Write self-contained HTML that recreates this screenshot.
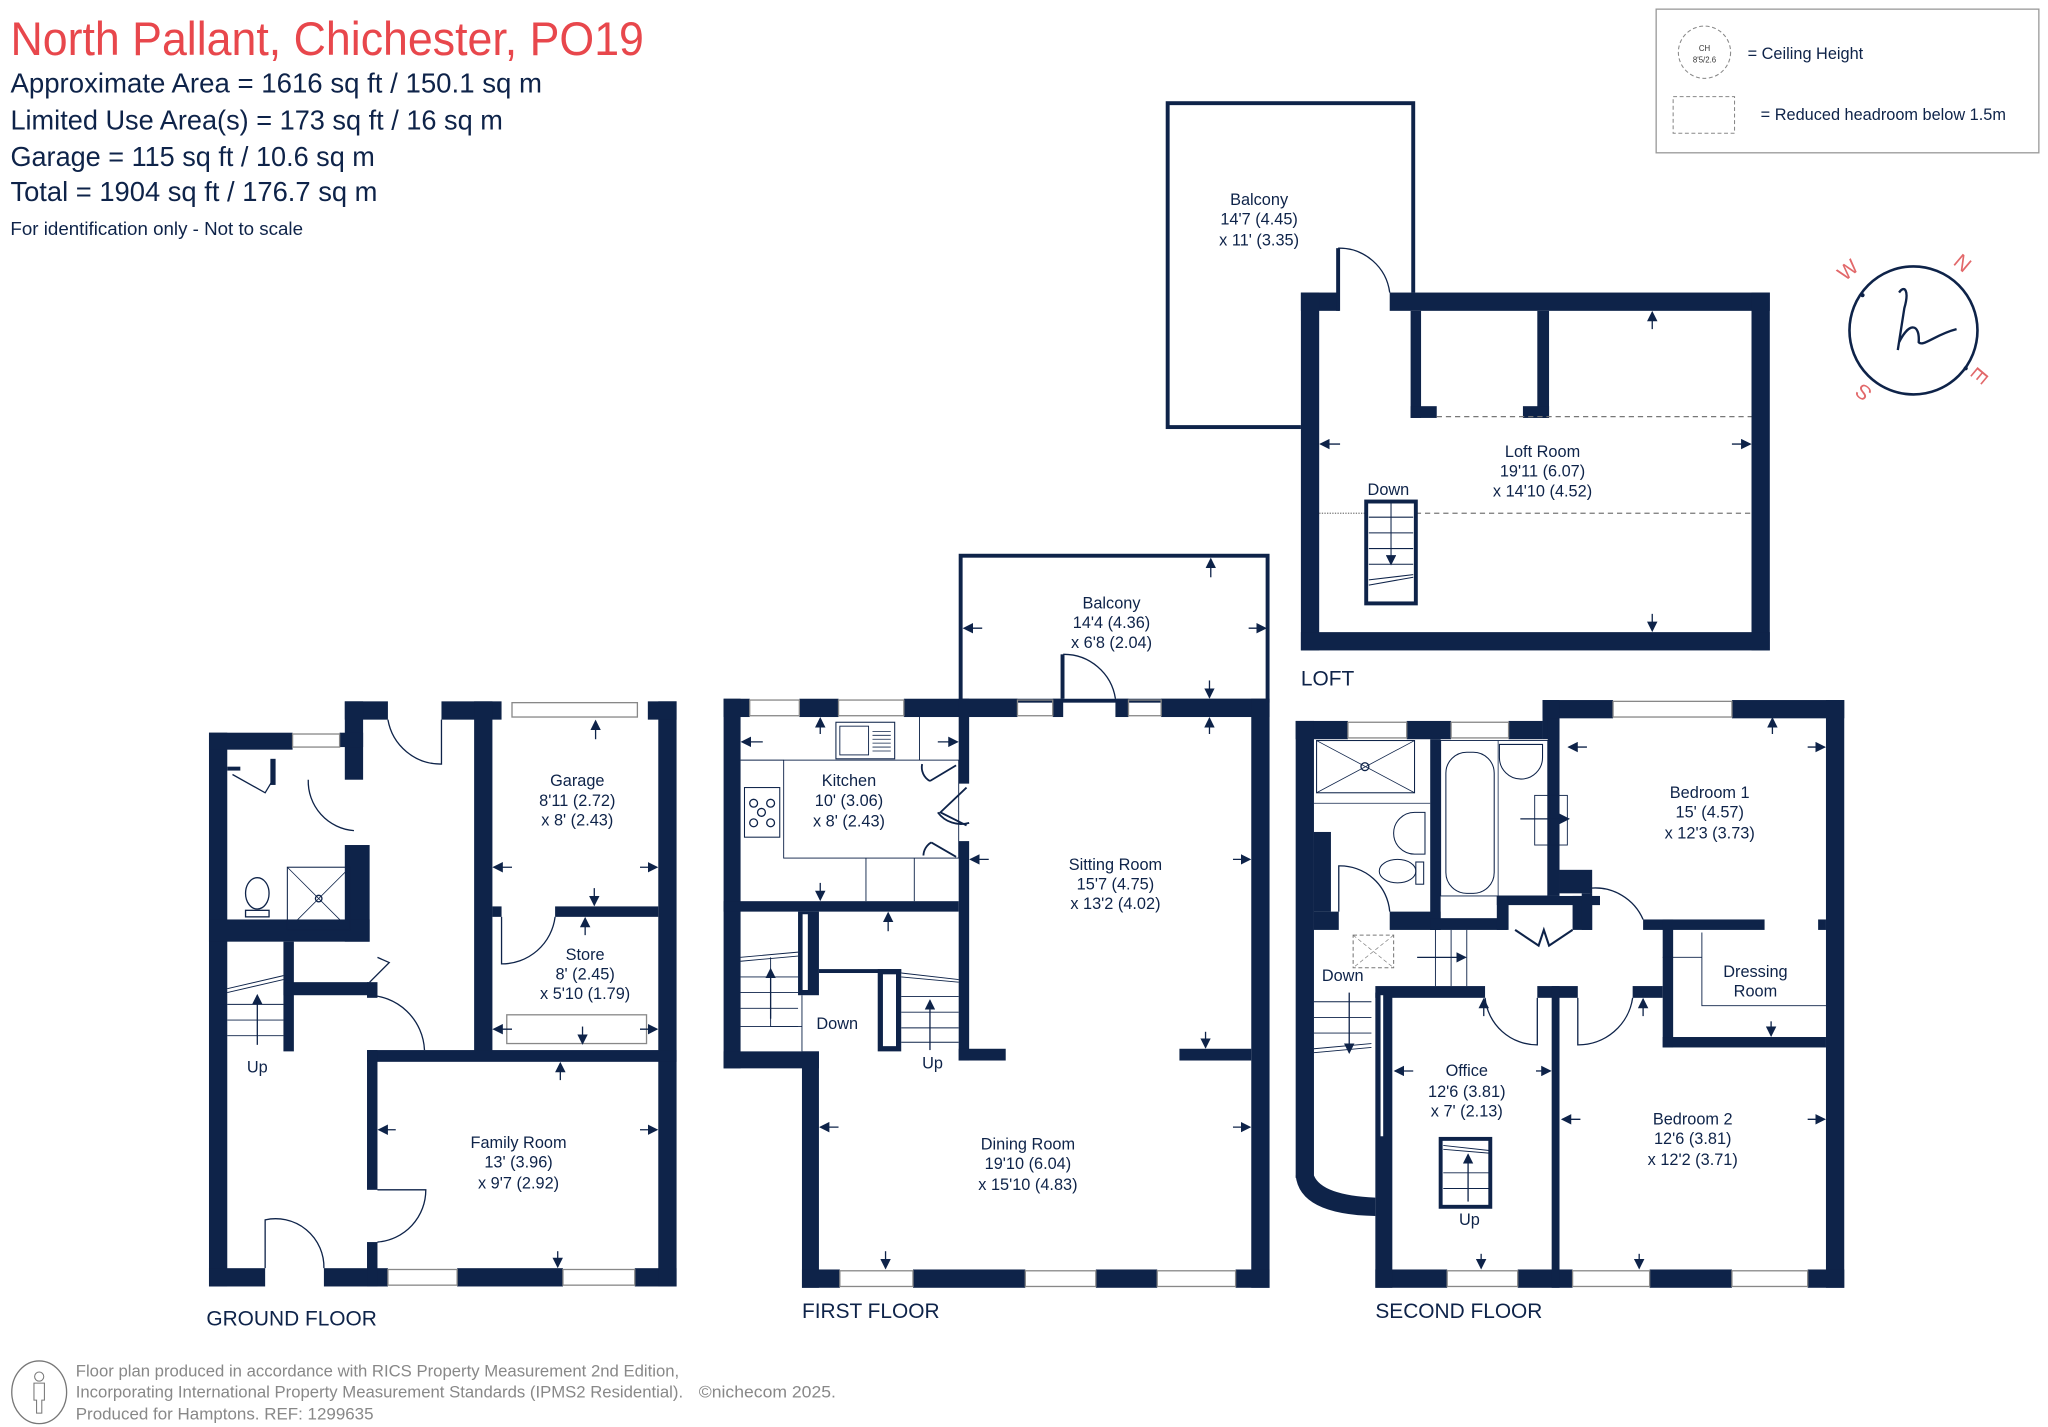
<!DOCTYPE html>
<html><head><meta charset="utf-8"><style>
html,body{margin:0;padding:0;background:#fff;}
svg{display:block;}
text{font-family:"Liberation Sans",sans-serif;}
.r{font-size:12.5px;fill:#0e2349;text-anchor:middle;}
.f{font-size:16px;fill:#0e2349;}
</style></head><body>
<svg width="2048" height="1427" viewBox="0 0 1568 1092.6" preserveAspectRatio="none" xmlns="http://www.w3.org/2000/svg">
<defs>
<marker id="a" markerWidth="8" markerHeight="8" refX="7" refY="4" orient="auto" markerUnits="userSpaceOnUse"><path d="M0,0 L8,4 L0,8 Z" fill="#0e2349"/></marker>
</defs>
<rect width="1568" height="1093" fill="#fff"/>
<!-- header -->
<text x="8" y="42" font-size="36" fill="#e8474c" textLength="485" lengthAdjust="spacingAndGlyphs">North Pallant, Chichester, PO19</text>
<g fill="#0e2349" font-size="21">
<text x="8" y="71" textLength="407" lengthAdjust="spacingAndGlyphs">Approximate Area = 1616 sq ft / 150.1 sq m</text>
<text x="8" y="99" textLength="377" lengthAdjust="spacingAndGlyphs">Limited Use Area(s) = 173 sq ft / 16 sq m</text>
<text x="8" y="127" textLength="279" lengthAdjust="spacingAndGlyphs">Garage = 115 sq ft / 10.6 sq m</text>
<text x="8" y="154" textLength="281" lengthAdjust="spacingAndGlyphs">Total = 1904 sq ft / 176.7 sq m</text>
<text x="8" y="180" font-size="14" textLength="224" lengthAdjust="spacingAndGlyphs">For identification only - Not to scale</text>
</g>
<!-- legend -->
<rect x="1268" y="7" width="293" height="110" fill="none" stroke="#999" stroke-width="1"/>
<circle cx="1305" cy="40" r="20" fill="none" stroke="#888" stroke-width="0.8" stroke-dasharray="3,2"/>
<text x="1305" y="39" font-size="6" text-anchor="middle" fill="#333">CH</text>
<text x="1305" y="48" font-size="6" text-anchor="middle" fill="#333">8'5/2.6</text>
<text x="1338" y="45" font-size="12.5" fill="#0e2349">= Ceiling Height</text>
<rect x="1281" y="74" width="47" height="28" fill="none" stroke="#888" stroke-width="0.8" stroke-dasharray="3,2"/>
<text x="1348" y="92" font-size="12.5" fill="#0e2349">= Reduced headroom below 1.5m</text>
<!-- compass -->
<circle cx="1465" cy="253" r="49" fill="none" stroke="#0e2349" stroke-width="2"/>
<path d="M1454,224 C1458,218 1462,222 1458,236 L1453,268 M1454,262 C1462,246 1470,248 1469,262 C1472,266 1482,256 1498,252" fill="none" stroke="#0e2349" stroke-width="1.8"/>
<g fill="#e2686a" font-size="16" text-anchor="middle">
<text x="1415" y="212" transform="rotate(-40 1415 207)">W</text>
<text x="1503" y="207" transform="rotate(40 1503 201)">N</text>
<text x="1516" y="294" transform="rotate(130 1516 288)">E</text>
<text x="1427" y="305" transform="rotate(-140 1427 300)">S</text>
</g>
<circle cx="1426" cy="226" r="1.6" fill="#0e2349"/><circle cx="1505" cy="282" r="1.6" fill="#0e2349"/>

<g fill="#0e2349">
<!-- ================= LOFT ================= -->
<rect x="894" y="79" width="188" height="248" fill="none" stroke="#0e2349" stroke-width="3"/>
<rect x="996" y="224" width="359" height="274" fill="#fff"/>
<rect x="996" y="224" width="29" height="14"/><rect x="1064" y="224" width="291" height="14"/>
<rect x="996" y="224" width="14" height="274"/><rect x="1341" y="224" width="14" height="274"/>
<rect x="996" y="484" width="359" height="14"/>
<rect x="1080" y="238" width="8" height="82"/><rect x="1080" y="311" width="20" height="9"/>
<rect x="1177" y="238" width="9" height="82"/><rect x="1166" y="311" width="20" height="9"/>
</g>
<path d="M1025,238 V190 A39,39 0 0 1 1064,224" fill="none" stroke="#0e2349" stroke-width="1"/>
<rect x="1023" y="190" width="3" height="48" fill="#0e2349"/>
<line x1="1100" y1="319" x2="1341" y2="319" stroke="#777" stroke-dasharray="4,3" stroke-width="1"/>
<line x1="1084" y1="393" x2="1341" y2="393" stroke="#777" stroke-dasharray="4,3" stroke-width="1"/>
<line x1="1010" y1="393" x2="1046" y2="393" stroke="#777" stroke-dasharray="1,1" stroke-width="1"/>
<rect x="1046" y="384" width="38" height="78" fill="#fff" stroke="#0e2349" stroke-width="3"/>
<g stroke="#0e2349" stroke-width="0.8"><line x1="1048" y1="396" x2="1082" y2="396"/><line x1="1048" y1="408" x2="1082" y2="408"/><line x1="1048" y1="420" x2="1082" y2="420"/><line x1="1048" y1="432" x2="1082" y2="432"/><line x1="1048" y1="444" x2="1082" y2="440"/><line x1="1048" y1="448" x2="1082" y2="442"/><line x1="1065" y1="384" x2="1065" y2="432"/><line x1="1065" y1="420" x2="1065" y2="432" marker-end="url(#a)"/></g>
<g stroke="#0e2349" stroke-width="1" marker-end="url(#a)">
<line x1="1265" y1="252" x2="1265" y2="239"/><line x1="1265" y1="470" x2="1265" y2="483"/>
<line x1="1026" y1="340" x2="1011" y2="340"/><line x1="1326" y1="340" x2="1340" y2="340"/>
</g>
<text class="r" x="964" y="157">Balcony</text><text class="r" x="964" y="172">14'7 (4.45)</text><text class="r" x="964" y="188">x 11' (3.35)</text>
<text class="r" x="1181" y="350">Loft Room</text><text class="r" x="1181" y="365">19'11 (6.07)</text><text class="r" x="1181" y="380">x 14'10 (4.52)</text>
<text class="r" x="1063" y="379">Down</text>
<text class="f" x="996" y="525">LOFT</text>

<!-- ================= GROUND FLOOR ================= -->
<g fill="#0e2349">
<rect x="160" y="561" width="14" height="424"/>
<rect x="160" y="971" width="43" height="14"/><rect x="248" y="971" width="49" height="14"/><rect x="350" y="971" width="81" height="14"/><rect x="486" y="971" width="32" height="14"/>
<rect x="504" y="537" width="14" height="448"/>
<rect x="338" y="537" width="46" height="14"/><rect x="496" y="537" width="22" height="14"/>
<rect x="363" y="537" width="14" height="273"/>
<rect x="281" y="804" width="237" height="9"/>
<rect x="425" y="694" width="79" height="8"/><rect x="377" y="694" width="7" height="8"/>
<rect x="264" y="537" width="33" height="14"/><rect x="264" y="537" width="14" height="60"/>
<rect x="160" y="561" width="64" height="13"/><rect x="260" y="561" width="18" height="11"/>
<rect x="264" y="647" width="19" height="74"/>
<rect x="160" y="704" width="123" height="17"/>
<rect x="217" y="721" width="8" height="84"/>
<rect x="217" y="752" width="66" height="10"/><rect x="281" y="752" width="8" height="12"/>
<rect x="281" y="804" width="8" height="107"/><rect x="281" y="951" width="8" height="34"/>
<rect x="207" y="581" width="4" height="20"/><rect x="174" y="587" width="10" height="3"/>
</g>
<g fill="none" stroke="#0e2349" stroke-width="1">
<rect x="224" y="562" width="36" height="10" stroke="#888"/>
<rect x="392" y="538" width="96" height="11" stroke="#888"/>
<rect x="297" y="972" width="53" height="12" stroke="#888"/><rect x="431" y="972" width="55" height="12" stroke="#888"/>
<path d="M203,971 V934 A37,37 0 0 1 248,971"/>
<path d="M289,911 H326 A40,40 0 0 1 289,951"/>
<path d="M281,762 A44,44 0 0 1 325,804"/>
<path d="M297,551 A41,41 0 0 0 338,585 V551"/>
<path d="M236,597 A38,38 0 0 0 271,636"/>
<path d="M425,702 A41,41 0 0 1 384,738 V702"/>
<path d="M178,593 L203,607 L209,597"/>
<path d="M283,752 L298,737 L289,733"/>
<rect x="220" y="664" width="48" height="48" stroke-width="0.8"/>
<path d="M220,664 L268,712 M268,664 L220,712" stroke-width="0.6"/>
<circle cx="244" cy="688" r="2.5"/>
<ellipse cx="197" cy="684" rx="9" ry="12"/>
<rect x="188" y="697" width="18" height="5"/>
<rect x="388" y="777" width="107" height="22" stroke="#888"/>
<g stroke-width="0.7"><line x1="174" y1="757" x2="217" y2="747"/><line x1="174" y1="760" x2="217" y2="750"/><line x1="174" y1="769" x2="217" y2="769"/><line x1="174" y1="781" x2="217" y2="781"/><line x1="174" y1="793" x2="217" y2="793"/></g>
</g>
<g stroke="#0e2349" stroke-width="1" marker-end="url(#a)">
<line x1="197" y1="800" x2="197" y2="762"/>
<line x1="456" y1="566" x2="456" y2="552"/><line x1="455" y1="680" x2="455" y2="693"/>
<line x1="392" y1="664" x2="378" y2="664"/><line x1="490" y1="664" x2="503" y2="664"/>
<line x1="448" y1="716" x2="448" y2="703"/><line x1="446" y1="786" x2="446" y2="799"/>
<line x1="392" y1="788" x2="378" y2="788"/><line x1="490" y1="788" x2="503" y2="788"/>
<line x1="429" y1="827" x2="429" y2="814"/><line x1="427" y1="958" x2="427" y2="970"/>
<line x1="303" y1="865" x2="290" y2="865"/><line x1="490" y1="865" x2="503" y2="865"/>
</g>
<text class="r" x="442" y="602">Garage</text><text class="r" x="442" y="617">8'11 (2.72)</text><text class="r" x="442" y="632">x 8' (2.43)</text>
<text class="r" x="448" y="735">Store</text><text class="r" x="448" y="750">8' (2.45)</text><text class="r" x="448" y="765">x 5'10 (1.79)</text>
<text class="r" x="397" y="879">Family Room</text><text class="r" x="397" y="894">13' (3.96)</text><text class="r" x="397" y="910">x 9'7 (2.92)</text>
<text class="r" x="197" y="821">Up</text>
<text class="f" x="158" y="1015">GROUND FLOOR</text>

<!-- ================= FIRST FLOOR ================= -->
<rect x="735.5" y="425.5" width="235" height="111" fill="none" stroke="#0e2349" stroke-width="3"/>
<g fill="#0e2349">
<rect x="554" y="535" width="20" height="14"/><rect x="612" y="535" width="30" height="14"/><rect x="692" y="535" width="87" height="14"/><rect x="806" y="535" width="8" height="14"/><rect x="854" y="535" width="10" height="14"/><rect x="889" y="535" width="83" height="14"/>
<rect x="958" y="535" width="14" height="451"/>
<rect x="554" y="535" width="13" height="283"/>
<rect x="554" y="805" width="73" height="13"/><rect x="614" y="805" width="13" height="181"/>
<rect x="614" y="972" width="29" height="14"/><rect x="699" y="972" width="86" height="14"/><rect x="839" y="972" width="47" height="14"/><rect x="946" y="972" width="26" height="14"/>
<rect x="734" y="535" width="8" height="65"/><rect x="734" y="644" width="8" height="168"/>
<rect x="554" y="690" width="180" height="8"/>
<rect x="734" y="803" width="36" height="9"/><rect x="903" y="803" width="55" height="9"/>
<rect x="611" y="698" width="16" height="64"/>
<rect x="627" y="742" width="63" height="3"/>
<rect x="812" y="501" width="3" height="34"/>
</g>
<rect x="614.5" y="700" width="4" height="58" fill="#fff"/>
<rect x="674" y="744" width="14" height="59" fill="#fff" stroke="#0e2349" stroke-width="4"/>
<g fill="none" stroke="#0e2349" stroke-width="1">
<g stroke="#888"><rect x="574" y="536" width="38" height="12"/><rect x="642" y="536" width="50" height="12"/><rect x="779" y="536" width="27" height="12"/><rect x="864" y="536" width="25" height="12"/>
<rect x="643" y="973" width="56" height="12"/><rect x="785" y="973" width="54" height="12"/><rect x="886" y="973" width="60" height="12"/></g>
<path d="M814,501 A40,40 0 0 1 854,535"/>
<rect x="600" y="582" width="134" height="75" stroke-width="0.7"/>
<line x1="567" y1="582" x2="600" y2="582" stroke-width="0.7"/>
<line x1="704" y1="549" x2="704" y2="582" stroke-width="0.7"/>
<line x1="663" y1="657" x2="663" y2="690" stroke-width="0.7"/><line x1="700" y1="657" x2="700" y2="690" stroke-width="0.7"/>
<rect x="640" y="553" width="45" height="28" stroke-width="0.8"/><rect x="643" y="556" width="22" height="22" stroke-width="0.7"/>
<g stroke-width="0.6"><line x1="668" y1="560" x2="682" y2="560"/><line x1="668" y1="563" x2="682" y2="563"/><line x1="668" y1="566" x2="682" y2="566"/><line x1="668" y1="569" x2="682" y2="569"/><line x1="668" y1="572" x2="682" y2="572"/><line x1="668" y1="575" x2="682" y2="575"/></g>
<rect x="570" y="603" width="27" height="38" stroke-width="0.8"/>
<circle cx="577" cy="615" r="3"/><circle cx="590" cy="615" r="3"/><circle cx="583" cy="622" r="3"/><circle cx="577" cy="630" r="3"/><circle cx="590" cy="630" r="3"/>
<path d="M732,586 L712,598 M706,585 A12,12 0 0 0 712,598" stroke-width="1.4"/>
<path d="M740,603 L720,622 L740,632 M718,622 A22,22 0 0 0 742,630" stroke-width="1.4"/>
<path d="M732,656 L713,645 M707,655 A12,12 0 0 1 713,645" stroke-width="1.4"/>
<g stroke-width="0.7"><line x1="567" y1="733" x2="611" y2="729"/><line x1="567" y1="736" x2="611" y2="732"/><line x1="567" y1="748" x2="611" y2="748"/><line x1="567" y1="760" x2="611" y2="760"/><line x1="567" y1="772" x2="611" y2="772"/><line x1="567" y1="786" x2="611" y2="786"/><line x1="614" y1="762" x2="614" y2="805"/><line x1="590" y1="733" x2="590" y2="786"/><line x1="590" y1="786" x2="614" y2="786"/>
<line x1="690" y1="745" x2="734" y2="750"/><line x1="690" y1="748" x2="734" y2="752"/><line x1="690" y1="763" x2="734" y2="763"/><line x1="690" y1="775" x2="734" y2="775"/><line x1="690" y1="787" x2="734" y2="787"/><line x1="690" y1="798" x2="734" y2="798"/></g>
</g>
<g stroke="#0e2349" stroke-width="1" marker-end="url(#a)">
<line x1="590" y1="780" x2="590" y2="742"/><line x1="712" y1="804" x2="712" y2="766"/>
<line x1="628" y1="562" x2="628" y2="550"/><line x1="628" y1="676" x2="628" y2="689"/>
<line x1="584" y1="568" x2="568" y2="568"/><line x1="718" y1="568" x2="733" y2="568"/>
<line x1="680" y1="713" x2="680" y2="699"/>
<line x1="927" y1="442" x2="927" y2="428"/><line x1="926" y1="521" x2="926" y2="534"/><line x1="926" y1="562" x2="926" y2="550"/>
<line x1="752" y1="481" x2="738" y2="481"/><line x1="956" y1="481" x2="969" y2="481"/>
<line x1="757" y1="658" x2="743" y2="658"/><line x1="944" y1="658" x2="957" y2="658"/>
<line x1="923" y1="790" x2="923" y2="802"/>
<line x1="642" y1="863" x2="628" y2="863"/><line x1="944" y1="863" x2="957" y2="863"/>
<line x1="678" y1="958" x2="678" y2="971"/>
</g>
<text class="r" x="650" y="602">Kitchen</text><text class="r" x="650" y="617">10' (3.06)</text><text class="r" x="650" y="633">x 8' (2.43)</text>
<text class="r" x="851" y="466">Balcony</text><text class="r" x="851" y="481">14'4 (4.36)</text><text class="r" x="851" y="496">x 6'8 (2.04)</text>
<text class="r" x="854" y="666">Sitting Room</text><text class="r" x="854" y="681">15'7 (4.75)</text><text class="r" x="854" y="696">x 13'2 (4.02)</text>
<text class="r" x="787" y="880">Dining Room</text><text class="r" x="787" y="895">19'10 (6.04)</text><text class="r" x="787" y="911">x 15'10 (4.83)</text>
<text class="r" x="641" y="788">Down</text><text class="r" x="714" y="818">Up</text>
<text class="f" x="614" y="1009">FIRST FLOOR</text>

<!-- ================= SECOND FLOOR ================= -->
<g fill="#0e2349">
<rect x="992" y="552" width="40" height="14"/><rect x="1077" y="552" width="34" height="14"/><rect x="1155" y="552" width="26" height="14"/>
<rect x="1181" y="536" width="54" height="14"/><rect x="1326" y="536" width="86" height="14"/><rect x="1181" y="536" width="13" height="30"/>
<rect x="1398" y="536" width="14" height="450"/>
<rect x="1053" y="972" width="55" height="14"/><rect x="1162" y="972" width="42" height="14"/><rect x="1263" y="972" width="63" height="14"/><rect x="1384" y="972" width="28" height="14"/>
<rect x="992" y="552" width="14" height="350"/>
<path d="M992,900 L1006,900 Q1012,915 1053,917 L1053,931 Q995,930 992,900 Z"/>
<rect x="1006" y="637" width="13" height="61"/>
<rect x="1053" y="760" width="13" height="226"/>
<rect x="1095" y="566" width="8" height="146"/>
<rect x="1006" y="698" width="19" height="14"/><rect x="1064" y="698" width="39" height="14"/>
<rect x="1095" y="703" width="59" height="9"/>
<rect x="1146" y="686" width="79" height="7"/><rect x="1146" y="686" width="9" height="26"/><rect x="1204" y="686" width="15" height="26"/>
<rect x="1185" y="550" width="9" height="136"/>
<rect x="1194" y="666" width="25" height="18"/><rect x="1211" y="684" width="8" height="28"/>
<rect x="1258" y="704" width="93" height="8"/><rect x="1392" y="704" width="6" height="8"/>
<rect x="1053" y="755" width="84" height="9"/><rect x="1177" y="755" width="31" height="9"/><rect x="1250" y="755" width="23" height="9"/>
<rect x="1188" y="755" width="6" height="231"/>
<rect x="1273" y="704" width="8" height="98"/><rect x="1273" y="794" width="125" height="8"/>
</g>
<rect x="1056" y="761" width="4" height="110" fill="#fff" stroke="#0e2349" stroke-width="2"/>
<g fill="none" stroke="#0e2349" stroke-width="1">
<g stroke="#888"><rect x="1032" y="553" width="45" height="12"/><rect x="1111" y="553" width="44" height="12"/><rect x="1235" y="537" width="91" height="12"/>
<rect x="1108" y="973" width="54" height="12"/><rect x="1204" y="973" width="59" height="12"/><rect x="1326" y="973" width="58" height="12"/></g>
<rect x="1008" y="567" width="75" height="40" stroke-width="0.8"/><path d="M1008,567 L1083,607 M1083,567 L1008,607" stroke-width="0.6"/><circle cx="1045" cy="587" r="3"/>
<line x1="1006" y1="615" x2="1095" y2="615" stroke-width="0.6"/>
<path d="M1091,622 H1083 A16,16 0 0 0 1083,654 H1091 Z" stroke-width="0.8"/>
<ellipse cx="1070" cy="667" rx="14" ry="9" stroke-width="0.8"/><rect x="1084" y="660" width="6" height="17" stroke-width="0.8"/>
<rect x="1103" y="567" width="82" height="119" stroke-width="0.7"/>
<rect x="1107" y="576" width="37" height="108" rx="16" stroke-width="0.8"/>
<line x1="1147" y1="567" x2="1147" y2="686" stroke-width="0.6"/>
<path d="M1148,570 H1181 V580 A16,16 0 0 1 1148,580 Z" stroke-width="0.8"/>
<rect x="1175" y="609" width="25" height="38" stroke-width="0.7"/><line x1="1187" y1="609" x2="1187" y2="647" stroke-width="0.6"/>
<path d="M1025,698 V663 A38,38 0 0 1 1064,698"/>
<path d="M1218,712 V680 A40,40 0 0 1 1258,704"/>
<path d="M1137,764 A40,40 0 0 0 1177,800 V764"/>
<path d="M1208,764 V800 A42,42 0 0 0 1250,764"/>
<path d="M1160,712 L1178,724 L1182,712 L1186,724 L1204,712" stroke-width="1.6"/>
<path d="M1303,714 V733 H1273 M1303,733 V770 H1398" stroke-width="0.7"/>
<rect x="1036" y="716" width="31" height="25" stroke="#777" stroke-dasharray="3,2" stroke-width="0.8"/>
<path d="M1036,716 L1067,741 M1067,716 L1036,741" stroke="#777" stroke-dasharray="3,2" stroke-width="0.5"/>
<g stroke-width="0.7"><line x1="1099" y1="712" x2="1099" y2="755"/><line x1="1111" y1="712" x2="1111" y2="755"/><line x1="1123" y1="712" x2="1123" y2="755"/>
<line x1="1006" y1="767" x2="1050" y2="767"/><line x1="1006" y1="779" x2="1050" y2="779"/><line x1="1006" y1="791" x2="1050" y2="791"/><line x1="1006" y1="803" x2="1050" y2="799"/><line x1="1006" y1="806" x2="1050" y2="802"/>
<line x1="1141" y1="881" x2="1105" y2="877"/><line x1="1141" y1="883" x2="1105" y2="880"/><line x1="1105" y1="898" x2="1141" y2="898"/><line x1="1105" y1="910" x2="1141" y2="910"/></g>
<rect x="1103" y="872" width="38" height="52" stroke-width="3"/>
</g>
<g stroke="#0e2349" stroke-width="1" marker-end="url(#a)">
<line x1="1085" y1="733" x2="1122" y2="733"/><line x1="1164" y1="627" x2="1201" y2="627"/>
<line x1="1033" y1="760" x2="1033" y2="806"/><line x1="1124" y1="920" x2="1124" y2="884"/>
<line x1="1357" y1="562" x2="1357" y2="550"/><line x1="1215" y1="572" x2="1201" y2="572"/><line x1="1384" y1="572" x2="1397" y2="572"/>
<line x1="1356" y1="782" x2="1356" y2="793"/>
<line x1="1136" y1="778" x2="1136" y2="765"/><line x1="1258" y1="778" x2="1258" y2="765"/>
<line x1="1082" y1="820" x2="1068" y2="820"/><line x1="1176" y1="820" x2="1187" y2="820"/>
<line x1="1210" y1="857" x2="1196" y2="857"/><line x1="1384" y1="857" x2="1397" y2="857"/>
<line x1="1134" y1="960" x2="1134" y2="971"/><line x1="1255" y1="960" x2="1255" y2="971"/>
</g>
<text class="r" x="1309" y="611">Bedroom 1</text><text class="r" x="1309" y="626">15' (4.57)</text><text class="r" x="1309" y="642">x 12'3 (3.73)</text>
<text class="r" x="1344" y="748">Dressing</text><text class="r" x="1344" y="763">Room</text>
<text class="r" x="1123" y="824">Office</text><text class="r" x="1123" y="840">12'6 (3.81)</text><text class="r" x="1123" y="855">x 7' (2.13)</text>
<text class="r" x="1296" y="861">Bedroom 2</text><text class="r" x="1296" y="876">12'6 (3.81)</text><text class="r" x="1296" y="892">x 12'2 (3.71)</text>
<text class="r" x="1028" y="751">Down</text><text class="r" x="1125" y="938">Up</text>
<text class="f" x="1053" y="1009">SECOND FLOOR</text>

<!-- footer -->
<ellipse cx="30" cy="1066" rx="21" ry="24" fill="none" stroke="#777" stroke-width="1"/>
<circle cx="30" cy="1054" r="3.5" fill="none" stroke="#777" stroke-width="0.8"/>
<path d="M26,1059 H34 V1072 H32 V1082 H28 V1072 H26 Z" fill="none" stroke="#777" stroke-width="0.8"/>
<g fill="#888" font-size="12.5">
<text x="58" y="1054" textLength="462" lengthAdjust="spacingAndGlyphs">Floor plan produced in accordance with RICS Property Measurement 2nd Edition,</text>
<text x="58" y="1070" textLength="465" lengthAdjust="spacingAndGlyphs">Incorporating International Property Measurement Standards (IPMS2 Residential).</text>
<text x="58" y="1087" textLength="228" lengthAdjust="spacingAndGlyphs">Produced for Hamptons.  REF:  1299635</text>
<text x="535" y="1070" textLength="105" lengthAdjust="spacingAndGlyphs">©nichecom 2025.</text>
</g>
</svg>
</body></html>
